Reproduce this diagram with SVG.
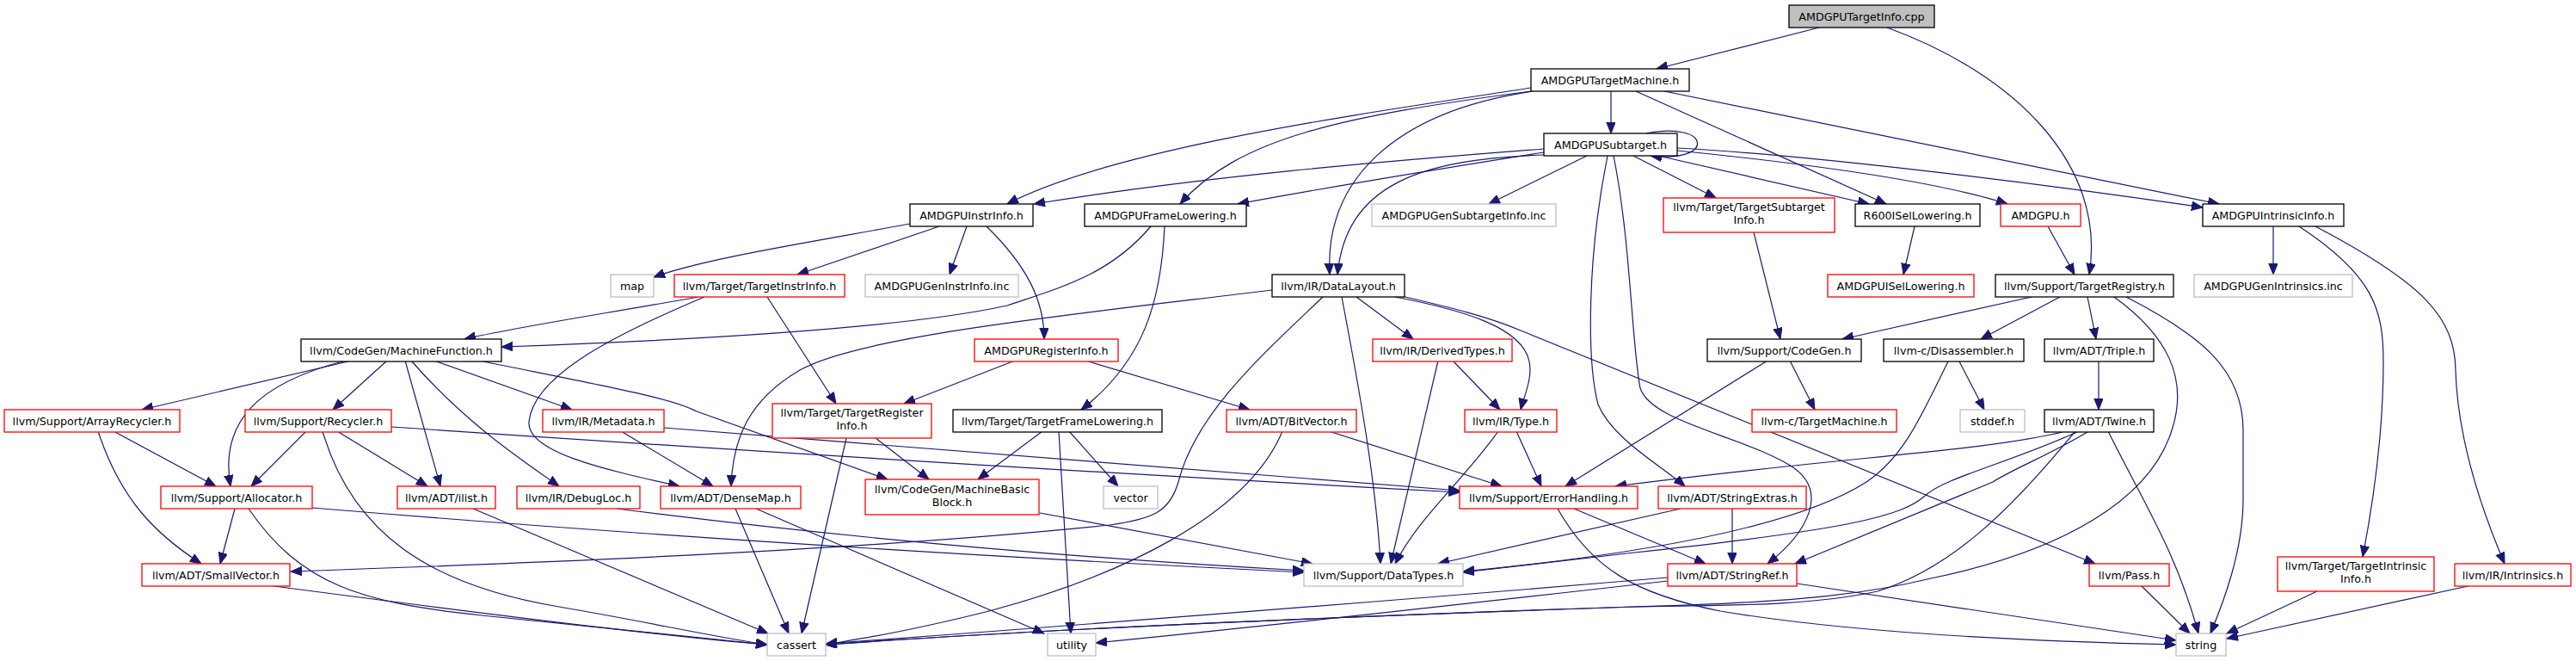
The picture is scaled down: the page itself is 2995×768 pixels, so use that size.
<svg xmlns="http://www.w3.org/2000/svg" width="2995" height="768" viewBox="0 0 2995 768">
<style>
.edge path{fill:none;stroke:#191970;stroke-width:1.2;marker-end:url(#ah)}
.node rect{fill:#fff;stroke-width:1.3}
.blk rect{stroke:#000}
.red rect{stroke:#ff0000}
.gry rect{stroke:#bfbfbf}
.root rect{fill:#bfbfbf;stroke:#000}
text{font-family:"DejaVu Sans","Liberation Sans",sans-serif;font-size:12.7px;text-anchor:middle;fill:#000}
</style>
<defs>
<marker id="ah" markerUnits="userSpaceOnUse" markerWidth="14" markerHeight="12" refX="13" refY="5.25" orient="auto">
<path d="M0,0 L13,5.25 L0,10.5 z" fill="#191970" stroke="#191970" stroke-width="1"/>
</marker>
</defs>
<rect x="0" y="0" width="2995" height="768" fill="#fff"/>
<g id="edges" class="edge">
<path d="M2115,32 L1926,80"/>
<path d="M2194,32 C2340,85 2450,190 2429,319"/>
<path d="M1780,102 C1600,130 1300,170 1171,237"/>
<path d="M1780,106 C1560,135 1440,160 1372,237"/>
<path d="M1782,106 C1620,130 1540,210 1546,319"/>
<path d="M1873,106 L1873,155"/>
<path d="M1902,106 L2193,237"/>
<path d="M1935,106 L2580,237"/>
<path d="M1914,155 C1990,140 1995,190 1919,181"/>
<path d="M1795,173 C1600,188 1400,205 1202,237"/>
<path d="M1795,177 C1650,200 1520,222 1439,237"/>
<path d="M1795,180 C1650,185 1565,215 1555,319"/>
<path d="M1845,181 L1731,237"/>
<path d="M1899,181 L1995,230"/>
<path d="M1928,181 L2173,237"/>
<path d="M1950,175 C2100,190 2250,210 2334,237"/>
<path d="M1950,172 C2100,180 2350,210 2561,241"/>
<path d="M1869,181 C1845,300 1845,420 1858,470 C1875,510 1930,540 1959,565"/>
<path d="M1876,181 C1896,280 1897,400 1907,451 C1920,490 2020,505 2080,540 C2130,570 2100,620 2055,655"/>
<path d="M1058,260 C950,280 820,300 760,322"/>
<path d="M1092,263 L927,319"/>
<path d="M1124,263 L1104,319"/>
<path d="M1147,263 C1195,310 1214,350 1214,394"/>
<path d="M1338,263 C1290,320 1230,335 1171,355 C1080,375 900,392 583,403"/>
<path d="M1354,263 C1350,350 1330,420 1257,476"/>
<path d="M812,345 C700,365 600,380 540,394"/>
<path d="M892,345 L972,469"/>
<path d="M819,345 C700,395 620,440 615,490 C612,525 700,545 790,565"/>
<path d="M1479,337 C1250,365 1000,390 930,430 C870,465 852,510 850,565"/>
<path d="M1538,345 C1470,410 1390,480 1370,560 C1360,595 1340,603 1290,610 C1000,640 600,655 338,664"/>
<path d="M1560,345 C1580,450 1600,560 1605,655"/>
<path d="M1577,345 L1643,394"/>
<path d="M1622,345 C1700,360 1770,380 1778,420 C1782,440 1772,460 1768,476"/>
<path d="M1625,343 C1690,358 1730,368 1768,384 L2436,655"/>
<path d="M409,419 L165,476"/>
<path d="M402,419 C300,445 255,490 268,565"/>
<path d="M450,419 L387,476"/>
<path d="M471,419 L512,565"/>
<path d="M478,419 C540,490 600,530 650,565"/>
<path d="M505,419 L665,476"/>
<path d="M557,419 C700,448 780,462 810,478 L1032,557"/>
<path d="M132,501 L251,565"/>
<path d="M114,501 C140,580 180,620 234,655"/>
<path d="M356,501 L292,565"/>
<path d="M392,501 L497,565"/>
<path d="M375,501 C410,620 500,680 650,705 C750,722 830,740 892,749"/>
<path d="M455,496 Q1100,540 1697,572"/>
<path d="M273,591 L256,655"/>
<path d="M289,591 C350,680 420,700 560,715 C700,730 800,740 892,749"/>
<path d="M363,590 Q900,635 1516,665"/>
<path d="M311,680 Q750,738 892,749"/>
<path d="M550,591 L893,736"/>
<path d="M717,591 Q1100,640 1516,663"/>
<path d="M722,501 L829,565"/>
<path d="M772,497 Q1200,530 1697,570"/>
<path d="M855,591 L917,736"/>
<path d="M879,591 L1214,736"/>
<path d="M984,509 L932,736"/>
<path d="M1018,509 L1080,557"/>
<path d="M1212,501 L1137,557"/>
<path d="M1243,501 L1300,565"/>
<path d="M1231,501 L1245,736"/>
<path d="M1180,419 L1051,469"/>
<path d="M1262,419 L1453,476"/>
<path d="M1491,501 C1450,600 1300,670 1150,710 C1050,735 1000,742 960,749"/>
<path d="M1545,501 L1746,565"/>
<path d="M1209,596 L1526,655"/>
<path d="M1672,419 L1617,655"/>
<path d="M1689,419 L1744,476"/>
<path d="M1742,501 C1700,560 1650,600 1622,655"/>
<path d="M1763,501 L1792,565"/>
<path d="M2055,419 L1820,565"/>
<path d="M2081,419 L2110,476"/>
<path d="M1830,591 L1983,655"/>
<path d="M1811,591 C1850,660 1900,690 2000,710 C2150,735 2350,745 2530,749"/>
<path d="M2014,591 L2014,655"/>
<path d="M1954,591 L1672,655"/>
<path d="M1939,671 Q1500,708 960,748"/>
<path d="M1939,675 Q1500,725 1274,747"/>
<path d="M2089,678 Q2300,710 2530,744"/>
<path d="M2039,270 L2070,394"/>
<path d="M2226,263 L2213,319"/>
<path d="M2381,263 L2412,319"/>
<path d="M2643,263 L2643,319"/>
<path d="M2673,263 C2760,320 2771,360 2771,420 C2771,500 2760,580 2747,647"/>
<path d="M2692,263 C2820,330 2854,370 2855,430 C2857,500 2880,580 2912,655"/>
<path d="M2362,345 L2142,394"/>
<path d="M2395,345 L2303,394"/>
<path d="M2427,345 L2437,394"/>
<path d="M2458,345 C2520,390 2545,440 2525,500 C2500,580 2400,640 2245,672 C2180,688 2100,700 1900,705 Q1300,725 960,749"/>
<path d="M2472,345 C2560,390 2608,430 2608,500 L2608,580 C2608,640 2585,700 2570,736"/>
<path d="M2265,420 C2235,480 2215,530 2170,560 C2100,605 1950,640 1701,664"/>
<path d="M2278,420 L2307,476"/>
<path d="M2440,419 L2440,476"/>
<path d="M2398,502 C2300,525 2150,530 1878,565"/>
<path d="M2415,502 C2330,540 2260,555 2237,577 C2210,600 2150,615 1900,642 L1701,665"/>
<path d="M2427,502 C2380,530 2340,545 2317,560 L2087,655"/>
<path d="M2412,502 C2340,590 2270,660 2183,687 C2100,705 2000,703 1900,705 Q1300,725 960,749"/>
<path d="M2451,501 C2490,580 2530,640 2556,736"/>
<path d="M2489,680 L2546,736"/>
<path d="M2694,687 L2589,736"/>
<path d="M2874,680 L2589,742"/>
</g>
<g id="n1" class="node root"><rect x="2080" y="6" width="169" height="26"/><text x="2164.5" y="23.5">AMDGPUTargetInfo.cpp</text></g>
<g id="n2" class="node blk"><rect x="1780" y="80" width="184" height="26"/><text x="1872" y="97.5">AMDGPUTargetMachine.h</text></g>
<g id="n3" class="node blk"><rect x="1795" y="155" width="155" height="26"/><text x="1872.5" y="172.5">AMDGPUSubtarget.h</text></g>
<g id="n4" class="node blk"><rect x="1058" y="237" width="143" height="26"/><text x="1129.5" y="254.5">AMDGPUInstrInfo.h</text></g>
<g id="n5" class="node blk"><rect x="1261" y="237" width="188" height="26"/><text x="1355" y="254.5">AMDGPUFrameLowering.h</text></g>
<g id="n6" class="node gry"><rect x="1595" y="237" width="214" height="26"/><text x="1702" y="254.5">AMDGPUGenSubtargetInfo.inc</text></g>
<g id="n7" class="node red"><rect x="1934" y="230" width="199" height="40"/><text x="2033.5" y="245">llvm/Target/TargetSubtarget</text><text x="2033.5" y="260">Info.h</text></g>
<g id="n8" class="node blk"><rect x="2157" y="237" width="145" height="26"/><text x="2229.5" y="254.5">R600ISelLowering.h</text></g>
<g id="n9" class="node red"><rect x="2326" y="237" width="93" height="26"/><text x="2372.5" y="254.5">AMDGPU.h</text></g>
<g id="n10" class="node blk"><rect x="2561" y="237" width="164" height="26"/><text x="2643" y="254.5">AMDGPUIntrinsicInfo.h</text></g>
<g id="n11" class="node gry"><rect x="710" y="319" width="50" height="26"/><text x="735" y="336.5">map</text></g>
<g id="n12" class="node red"><rect x="784" y="319" width="198" height="26"/><text x="883" y="336.5">llvm/Target/TargetInstrInfo.h</text></g>
<g id="n13" class="node gry"><rect x="1006" y="319" width="178" height="26"/><text x="1095" y="336.5">AMDGPUGenInstrInfo.inc</text></g>
<g id="n14" class="node blk"><rect x="1479" y="319" width="154" height="26"/><text x="1556" y="336.5">llvm/IR/DataLayout.h</text></g>
<g id="n15" class="node red"><rect x="2125" y="319" width="170" height="26"/><text x="2210" y="336.5">AMDGPUISelLowering.h</text></g>
<g id="n16" class="node blk"><rect x="2320" y="319" width="207" height="26"/><text x="2423.5" y="336.5">llvm/Support/TargetRegistry.h</text></g>
<g id="n17" class="node gry"><rect x="2551" y="319" width="184" height="26"/><text x="2643" y="336.5">AMDGPUGenIntrinsics.inc</text></g>
<g id="n18" class="node blk"><rect x="350" y="394" width="233" height="26"/><text x="466.5" y="411.5">llvm/CodeGen/MachineFunction.h</text></g>
<g id="n19" class="node red"><rect x="1133" y="394" width="167" height="26"/><text x="1216.5" y="411.5">AMDGPURegisterInfo.h</text></g>
<g id="n20" class="node red"><rect x="1596" y="394" width="162" height="26"/><text x="1677" y="411.5">llvm/IR/DerivedTypes.h</text></g>
<g id="n21" class="node blk"><rect x="1985" y="394" width="179" height="26"/><text x="2074.5" y="411.5">llvm/Support/CodeGen.h</text></g>
<g id="n22" class="node blk"><rect x="2190" y="394" width="163" height="26"/><text x="2271.5" y="411.5">llvm-c/Disassembler.h</text></g>
<g id="n23" class="node blk"><rect x="2377" y="394" width="127" height="26"/><text x="2440.5" y="411.5">llvm/ADT/Triple.h</text></g>
<g id="n24" class="node red"><rect x="5" y="476" width="204" height="26"/><text x="107" y="493.5">llvm/Support/ArrayRecycler.h</text></g>
<g id="n25" class="node red"><rect x="285" y="476" width="170" height="26"/><text x="370" y="493.5">llvm/Support/Recycler.h</text></g>
<g id="n26" class="node red"><rect x="631" y="476" width="141" height="26"/><text x="701.5" y="493.5">llvm/IR/Metadata.h</text></g>
<g id="n27" class="node red"><rect x="898" y="469" width="185" height="40"/><text x="990.5" y="484">llvm/Target/TargetRegister</text><text x="990.5" y="499">Info.h</text></g>
<g id="n28" class="node blk"><rect x="1108" y="476" width="243" height="26"/><text x="1229.5" y="493.5">llvm/Target/TargetFrameLowering.h</text></g>
<g id="n29" class="node red"><rect x="1426" y="476" width="151" height="26"/><text x="1501.5" y="493.5">llvm/ADT/BitVector.h</text></g>
<g id="n30" class="node red"><rect x="1703" y="476" width="107" height="26"/><text x="1756.5" y="493.5">llvm/IR/Type.h</text></g>
<g id="n31" class="node red"><rect x="2037" y="476" width="168" height="26"/><text x="2121" y="493.5">llvm-c/TargetMachine.h</text></g>
<g id="n32" class="node gry"><rect x="2279" y="476" width="75" height="26"/><text x="2316.5" y="493.5">stddef.h</text></g>
<g id="n33" class="node blk"><rect x="2377" y="476" width="127" height="26"/><text x="2440.5" y="493.5">llvm/ADT/Twine.h</text></g>
<g id="n34" class="node red"><rect x="187" y="565" width="176" height="26"/><text x="275" y="582.5">llvm/Support/Allocator.h</text></g>
<g id="n35" class="node red"><rect x="462" y="565" width="114" height="26"/><text x="519" y="582.5">llvm/ADT/ilist.h</text></g>
<g id="n36" class="node red"><rect x="601" y="565" width="143" height="26"/><text x="672.5" y="582.5">llvm/IR/DebugLoc.h</text></g>
<g id="n37" class="node red"><rect x="768" y="565" width="163" height="26"/><text x="849.5" y="582.5">llvm/ADT/DenseMap.h</text></g>
<g id="n38" class="node red"><rect x="1006" y="557" width="202" height="41"/><text x="1107" y="572.5">llvm/CodeGen/MachineBasic</text><text x="1107" y="587.5">Block.h</text></g>
<g id="n39" class="node gry"><rect x="1283" y="565" width="63" height="26"/><text x="1314.5" y="582.5">vector</text></g>
<g id="n40" class="node red"><rect x="1697" y="565" width="207" height="26"/><text x="1800.5" y="582.5">llvm/Support/ErrorHandling.h</text></g>
<g id="n41" class="node red"><rect x="1928" y="565" width="172" height="26"/><text x="2014" y="582.5">llvm/ADT/StringExtras.h</text></g>
<g id="n42" class="node red"><rect x="165" y="655" width="172" height="26"/><text x="251" y="672.5">llvm/ADT/SmallVector.h</text></g>
<g id="n43" class="node gry"><rect x="1516" y="655" width="185" height="26"/><text x="1608.5" y="672.5">llvm/Support/DataTypes.h</text></g>
<g id="n44" class="node red"><rect x="1939" y="655" width="150" height="26"/><text x="2014" y="672.5">llvm/ADT/StringRef.h</text></g>
<g id="n45" class="node red"><rect x="2429" y="655" width="93" height="26"/><text x="2475.5" y="672.5">llvm/Pass.h</text></g>
<g id="n46" class="node red"><rect x="2648" y="647" width="182" height="40"/><text x="2739" y="662">llvm/Target/TargetIntrinsic</text><text x="2739" y="677">Info.h</text></g>
<g id="n47" class="node red"><rect x="2854" y="655" width="135" height="26"/><text x="2921.5" y="672.5">llvm/IR/Intrinsics.h</text></g>
<g id="n48" class="node gry"><rect x="892" y="736" width="68" height="26"/><text x="926" y="753.5">cassert</text></g>
<g id="n49" class="node gry"><rect x="1218" y="736" width="56" height="26"/><text x="1246" y="753.5">utility</text></g>
<g id="n50" class="node gry"><rect x="2530" y="736" width="58" height="26"/><text x="2559" y="753.5">string</text></g>
</svg>
